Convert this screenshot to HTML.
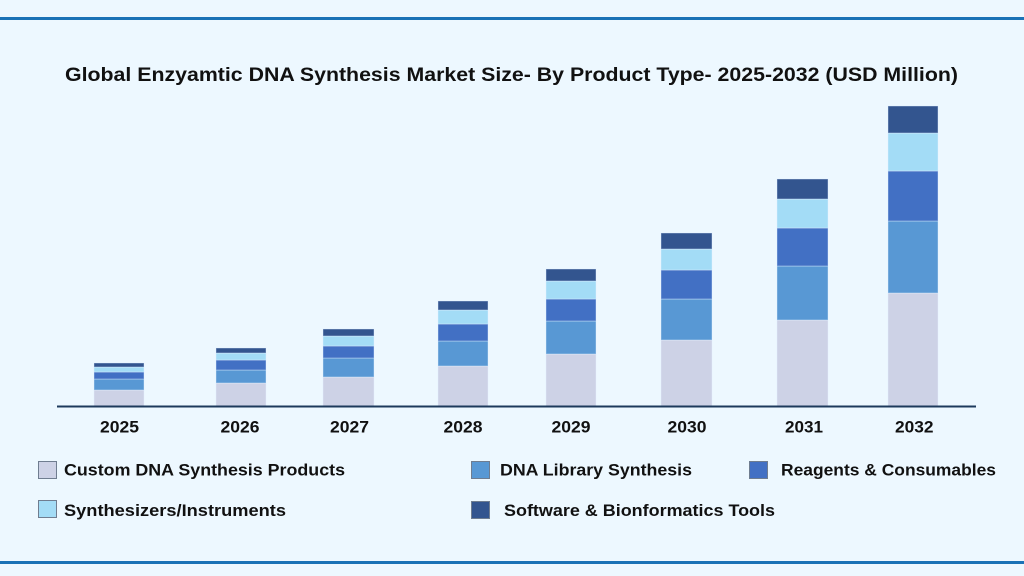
<!DOCTYPE html>
<html>
<head>
<meta charset="utf-8">
<style>
  html,body{margin:0;padding:0;background:#edf8ff;}
  svg{display:block;}
  text{font-family:"Liberation Sans",sans-serif;font-weight:bold;fill:#111;}
</style>
</head>
<body>
<svg width="1024" height="576" viewBox="0 0 1024 576" xmlns="http://www.w3.org/2000/svg">
  <rect x="0" y="0" width="1024" height="576" fill="#edf8ff"/>
  <rect x="0" y="17" width="1024" height="3" fill="#1a72b6"/>
  <rect x="0" y="561" width="1024" height="3" fill="#1a72b6"/>

  <text x="65" y="81" font-size="19.5" textLength="893" lengthAdjust="spacingAndGlyphs">Global Enzyamtic DNA Synthesis Market Size- By Product Type- 2025-2032 (USD Million)</text>

  <g stroke="#e3efff" stroke-opacity="0.5" stroke-width="0.8">
    <!-- 2025 -->
    <rect x="94" y="390" width="50" height="16" fill="#cdd2e6"/>
    <rect x="94" y="379" width="50" height="11" fill="#5898d4"/>
    <rect x="94" y="372" width="50" height="7" fill="#4270c4"/>
    <rect x="94" y="367" width="50" height="5" fill="#a3dcf6"/>
    <rect x="94" y="363" width="50" height="4" fill="#33558f"/>
    <!-- 2026 -->
    <rect x="216" y="383" width="50" height="23" fill="#cdd2e6"/>
    <rect x="216" y="370" width="50" height="13" fill="#5898d4"/>
    <rect x="216" y="360" width="50" height="10" fill="#4270c4"/>
    <rect x="216" y="353" width="50" height="7" fill="#a3dcf6"/>
    <rect x="216" y="348" width="50" height="5" fill="#33558f"/>
    <!-- 2027 -->
    <rect x="323" y="377" width="51" height="29" fill="#cdd2e6"/>
    <rect x="323" y="358" width="51" height="19" fill="#5898d4"/>
    <rect x="323" y="346" width="51" height="12" fill="#4270c4"/>
    <rect x="323" y="336" width="51" height="10" fill="#a3dcf6"/>
    <rect x="323" y="329" width="51" height="7" fill="#33558f"/>
    <!-- 2028 -->
    <rect x="438" y="366" width="50" height="40" fill="#cdd2e6"/>
    <rect x="438" y="341" width="50" height="25" fill="#5898d4"/>
    <rect x="438" y="324" width="50" height="17" fill="#4270c4"/>
    <rect x="438" y="310" width="50" height="14" fill="#a3dcf6"/>
    <rect x="438" y="301" width="50" height="9" fill="#33558f"/>
    <!-- 2029 -->
    <rect x="546" y="354" width="50" height="52" fill="#cdd2e6"/>
    <rect x="546" y="321" width="50" height="33" fill="#5898d4"/>
    <rect x="546" y="299" width="50" height="22" fill="#4270c4"/>
    <rect x="546" y="281" width="50" height="18" fill="#a3dcf6"/>
    <rect x="546" y="269" width="50" height="12" fill="#33558f"/>
    <!-- 2030 -->
    <rect x="661" y="340" width="51" height="66" fill="#cdd2e6"/>
    <rect x="661" y="299" width="51" height="41" fill="#5898d4"/>
    <rect x="661" y="270" width="51" height="29" fill="#4270c4"/>
    <rect x="661" y="249" width="51" height="21" fill="#a3dcf6"/>
    <rect x="661" y="233" width="51" height="16" fill="#33558f"/>
    <!-- 2031 -->
    <rect x="777" y="320" width="51" height="86" fill="#cdd2e6"/>
    <rect x="777" y="266" width="51" height="54" fill="#5898d4"/>
    <rect x="777" y="228" width="51" height="38" fill="#4270c4"/>
    <rect x="777" y="199" width="51" height="29" fill="#a3dcf6"/>
    <rect x="777" y="179" width="51" height="20" fill="#33558f"/>
    <!-- 2032 -->
    <rect x="888" y="293" width="50" height="113" fill="#cdd2e6"/>
    <rect x="888" y="221" width="50" height="72" fill="#5898d4"/>
    <rect x="888" y="171" width="50" height="50" fill="#4270c4"/>
    <rect x="888" y="133" width="50" height="38" fill="#a3dcf6"/>
    <rect x="888" y="106" width="50" height="27" fill="#33558f"/>
  </g>

  <rect x="57" y="405.5" width="919" height="2" fill="#1d3a5c"/>

  <g font-size="17">
    <text x="100" y="432.5" textLength="39" lengthAdjust="spacingAndGlyphs">2025</text>
    <text x="220.5" y="432.5" textLength="39" lengthAdjust="spacingAndGlyphs">2026</text>
    <text x="330" y="432.5" textLength="39" lengthAdjust="spacingAndGlyphs">2027</text>
    <text x="443.5" y="432.5" textLength="39" lengthAdjust="spacingAndGlyphs">2028</text>
    <text x="551.5" y="432.5" textLength="39" lengthAdjust="spacingAndGlyphs">2029</text>
    <text x="667.5" y="432.5" textLength="39" lengthAdjust="spacingAndGlyphs">2030</text>
    <text x="785" y="432.5" textLength="38" lengthAdjust="spacingAndGlyphs">2031</text>
    <text x="895" y="432.5" textLength="38.5" lengthAdjust="spacingAndGlyphs">2032</text>
  </g>

  <!-- legend -->
  <g stroke="#6f7d90" stroke-width="1">
    <rect x="38.5" y="461.5" width="18" height="17" fill="#cdd2e6"/>
    <rect x="471.5" y="461.5" width="18" height="17" fill="#5898d4"/>
    <rect x="749.5" y="461.5" width="18" height="17" fill="#4270c4"/>
    <rect x="38.5" y="500.5" width="18" height="17" fill="#a3dcf6"/>
    <rect x="471.5" y="501.5" width="18" height="17" fill="#33558f"/>
  </g>
  <g font-size="17">
    <text x="64" y="475.5" textLength="281" lengthAdjust="spacingAndGlyphs">Custom DNA Synthesis Products</text>
    <text x="500" y="475.5" textLength="192" lengthAdjust="spacingAndGlyphs">DNA Library Synthesis</text>
    <text x="781" y="475.5" textLength="215" lengthAdjust="spacingAndGlyphs">Reagents &amp; Consumables</text>
    <text x="64" y="516" textLength="222" lengthAdjust="spacingAndGlyphs">Synthesizers/Instruments</text>
    <text x="504" y="516" textLength="271" lengthAdjust="spacingAndGlyphs">Software &amp; Bionformatics Tools</text>
  </g>
</svg>
</body>
</html>
